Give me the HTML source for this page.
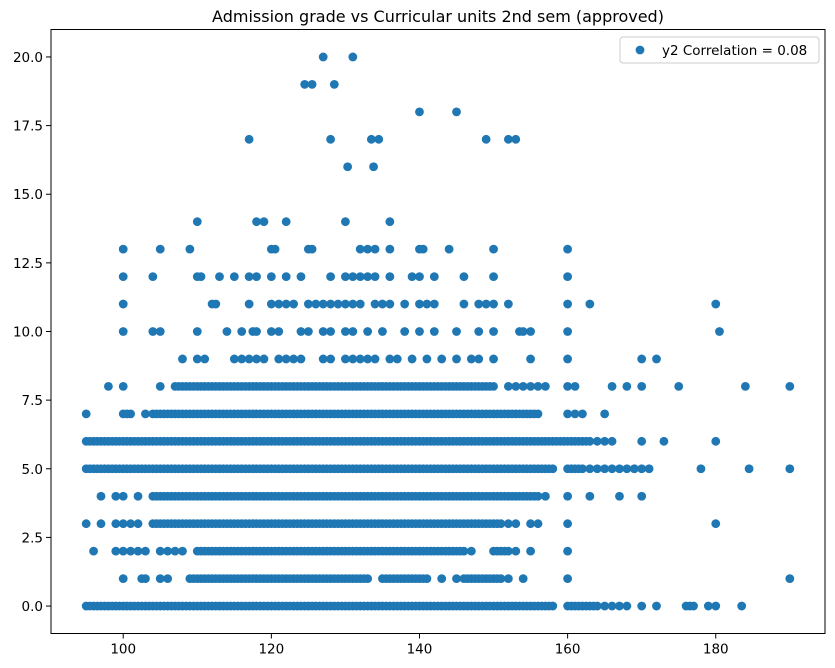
<!DOCTYPE html>
<html><head><meta charset="utf-8"><style>
body{margin:0;background:#fff;}
svg{display:block;font-family:"DejaVu Sans","Liberation Sans",sans-serif;}
</style></head><body>
<svg id="chart" width="835" height="668" viewBox="0 0 835 668" xmlns="http://www.w3.org/2000/svg">
<rect width="835" height="668" fill="#fff"/>
<text x="438" y="22" text-anchor="middle" font-size="16">Admission grade vs Curricular units 2nd sem (approved)</text>
<g id="points"></g>
<rect x="51" y="29.5" width="774" height="604" fill="none" stroke="#000" stroke-width="1"/>
<g id="xticks"></g>
<g id="yticks"></g>
<g>
<rect x="620" y="37" width="199" height="26" rx="3" fill="#fff" stroke="#ccc" fill-opacity="0.8"/>
<circle cx="640" cy="50" r="4.4" fill="#1f77b4"/>
<text x="662" y="55" font-size="13.5">y2 Correlation = 0.08</text>
</g>
</svg>
<script>
const xTicks=[100,120,140,160,180];
const yTicks=[0,2.5,5,7.5,10,12.5,15,17.5,20];
const yTickLabels=["0.0","2.5","5.0","7.5","10.0","12.5","15.0","17.5","20.0"];
const y0=[95,96,97,98,99,100,101,102,103,104,105,106,107,108,109,110,111,112,113,114,115,116,117,118,119,120,121,122,123,124,125,126,127,128,129,130,131,132,133,134,135,136,137,138,139,140,141,142,143,144,145,146,147,148,149,150,151,152,153,154,155,156,157,158,160,161,162,163,164,165,166,167,168,170,172,176,176.5,177,179,180,183.5];
const y0b=[95.5,96.5,97.5,98.5,99.5,100.5,101.5,102.5,103.5,104.5,105.5,106.5,107.5,108.5,109.5,110.5,111.5,112.5,113.5,114.5,115.5,116.5,117.5,118.5,119.5,120.5,121.5,122.5,123.5,124.5,125.5,126.5,127.5,128.5,129.5,130.5,131.5,132.5,133.5,134.5,135.5,136.5,137.5,138.5,139.5,140.5,141.5,142.5,143.5,144.5,145.5,146.5,147.5,148.5,149.5,150.5,151.5,152.5,153.5,154.5,155.5,156.5,157.5,160.5,161.5,162.5,163.5];
const y1=[100,102.5,103,105,106,109,110,111,112,113,114,115,116,117,118,119,120,121,122,123,124,125,126,127,128,129,130,131,132,133,135,136,137,138,139,140,141,143,145,146,147,148,149,150,151,152,154,160,190];
const y1b=[109.5,110.5,111.5,112.5,113.5,114.5,115.5,116.5,117.5,118.5,119.5,120.5,121.5,122.5,123.5,124.5,125.5,126.5,127.5,128.5,129.5,130.5,131.5,132.5,135.5,136.5,137.5,138.5,139.5,140.5,146.5,147.5,148.5,149.5,150.5];
const y2=[96,99,100,101,102,103,105,106,107,108,110,111,112,113,114,115,116,117,118,119,120,121,122,123,124,125,126,127,128,129,130,131,132,133,134,135,136,137,138,139,140,141,142,143,144,145,146,147,150,151,152,153,155,160];
const y2b=[110.5,111.5,112.5,113.5,114.5,115.5,116.5,117.5,118.5,119.5,120.5,121.5,122.5,123.5,124.5,125.5,126.5,127.5,128.5,129.5,130.5,131.5,132.5,133.5,134.5,135.5,136.5,137.5,138.5,139.5,140.5,141.5,142.5,143.5,144.5,145.5,150.5,151.5];
const y3=[95,97,99,100,101,102,104,105,106,107,108,109,110,111,112,113,114,115,116,117,118,119,120,121,122,123,124,125,126,127,128,129,130,131,132,133,134,135,136,137,138,139,140,141,142,143,144,145,146,147,148,149,150,151,152,153,155,156,160,180];
const y3b=[104.5,105.5,106.5,107.5,108.5,109.5,110.5,111.5,112.5,113.5,114.5,115.5,116.5,117.5,118.5,119.5,120.5,121.5,122.5,123.5,124.5,125.5,126.5,127.5,128.5,129.5,130.5,131.5,132.5,133.5,134.5,135.5,136.5,137.5,138.5,139.5,140.5,141.5,142.5,143.5,144.5,145.5,146.5,147.5,148.5,149.5,150.5];
const y4=[97,99,100,102,104,105,106,107,108,109,110,111,112,113,114,115,116,117,118,119,120,121,122,123,124,125,126,127,128,129,130,131,132,133,134,135,136,137,138,139,140,141,142,143,144,145,146,147,148,149,150,151,152,153,154,155,156,157,160,163,167,170];
const y4b=[104.5,105.5,106.5,107.5,108.5,109.5,110.5,111.5,112.5,113.5,114.5,115.5,116.5,117.5,118.5,119.5,120.5,121.5,122.5,123.5,124.5,125.5,126.5,127.5,128.5,129.5,130.5,131.5,132.5,133.5,134.5,135.5,136.5,137.5,138.5,139.5,140.5,141.5,142.5,143.5,144.5,145.5,146.5,147.5,148.5,149.5,150.5,151.5,152.5,153.5,154.5,155.5];
const y5=[95,96,97,98,99,100,101,102,103,104,105,106,107,108,109,110,111,112,113,114,115,116,117,118,119,120,121,122,123,124,125,126,127,128,129,130,131,132,133,134,135,136,137,138,139,140,141,142,143,144,145,146,147,148,149,150,151,152,153,154,155,156,157,158,160,161,162,163,164,165,166,167,168,169,170,171,178,184.5,190];
const y5b=[95.5,96.5,97.5,98.5,99.5,100.5,101.5,102.5,103.5,104.5,105.5,106.5,107.5,108.5,109.5,110.5,111.5,112.5,113.5,114.5,115.5,116.5,117.5,118.5,119.5,120.5,121.5,122.5,123.5,124.5,125.5,126.5,127.5,128.5,129.5,130.5,131.5,132.5,133.5,134.5,135.5,136.5,137.5,138.5,139.5,140.5,141.5,142.5,143.5,144.5,145.5,146.5,147.5,148.5,149.5,150.5,151.5,152.5,153.5,154.5,155.5,156.5,157.5,160.5,161.5];
const y6=[95,96,97,98,99,100,101,102,103,104,105,106,107,108,109,110,111,112,113,114,115,116,117,118,119,120,121,122,123,124,125,126,127,128,129,130,131,132,133,134,135,136,137,138,139,140,141,142,143,144,145,146,147,148,149,150,151,152,153,154,155,156,157,158,159,160,161,162,163,164,165,166,170,173,180];
const y6b=[95.5,96.5,97.5,98.5,99.5,100.5,101.5,102.5,103.5,104.5,105.5,106.5,107.5,108.5,109.5,110.5,111.5,112.5,113.5,114.5,115.5,116.5,117.5,118.5,119.5,120.5,121.5,122.5,123.5,124.5,125.5,126.5,127.5,128.5,129.5,130.5,131.5,132.5,133.5,134.5,135.5,136.5,137.5,138.5,139.5,140.5,141.5,142.5,143.5,144.5,145.5,146.5,147.5,148.5,149.5,150.5,151.5,152.5,153.5,154.5,155.5,156.5,157.5,158.5,159.5,160.5,161.5,162.5];
const y7=[95,100,101,103,104,105,106,107,108,109,110,111,112,113,114,115,116,117,118,119,120,121,122,123,124,125,126,127,128,129,130,131,132,133,134,135,136,137,138,139,140,141,142,143,144,145,146,147,148,149,150,151,152,153,154,155,156,160,161,162,165];
const y7b=[100.5,104.5,105.5,106.5,107.5,108.5,109.5,110.5,111.5,112.5,113.5,114.5,115.5,116.5,117.5,118.5,119.5,120.5,121.5,122.5,123.5,124.5,125.5,126.5,127.5,128.5,129.5,130.5,131.5,132.5,133.5,134.5,135.5,136.5,137.5,138.5,139.5,140.5,141.5,142.5,143.5,144.5,145.5,146.5,147.5,148.5,149.5,150.5,151.5,152.5,153.5,154.5,155.5];
const y8=[98,100,105,107,108,109,110,111,112,113,114,115,116,117,118,119,120,121,122,123,124,125,126,127,128,129,130,131,132,133,134,135,136,137,138,139,140,141,142,143,144,145,146,147,148,149,150,152,153,154,155,156,157,160,161,166,168,170,175,184,190];
const y8b=[107.5,108.5,109.5,110.5,111.5,112.5,113.5,114.5,115.5,116.5,117.5,118.5,119.5,120.5,121.5,122.5,123.5,124.5,125.5,126.5,127.5,128.5,129.5,130.5,131.5,132.5,133.5,134.5,135.5,136.5,137.5,138.5,139.5,140.5,141.5,142.5,143.5,144.5,145.5,146.5,147.5,148.5,149.5];
const y9=[108,110,111,115,116,117,118,119,121,122,123,124,127,128,130,131,132,133,134,136,137,139,141,143,145,147,148,150,155,160,170,172];
const y10=[100,104,105,110,114,116,117.5,118,120,121,124,125,127,128,130,131,133,135,138,140,142,145,148,150,153.5,154,155,160,180.5];
const y11=[100,112,112.5,117,120,121,122,123,125,126,127,128,129,130,131,132,134,135,136,138,140,141,142,146,148,149,150,152,160,163,180];
const y12=[100,104,110,110.5,113,115,117,118,120,122,124,128,130,131,132,133,134,136,139,140,142,146,150,160];
const y13=[100,105,109,120,120.5,125,125.5,132,133,134,136,140,140.5,144,150,160];
const y14=[110,118,119,122,130,136];
const y16=[130.3,133.8];
const y17=[117,128,133.5,134.5,149,152,153];
const y18=[140,145];
const y19=[124.5,125.5,128.5];
const y20=[127,131];
const rows=[[0,y0],[0,y0b],[1,y1],[1,y1b],[2,y2],[2,y2b],[3,y3],[3,y3b],[4,y4],[4,y4b],[5,y5],[5,y5b],[6,y6],[6,y6b],[7,y7],[7,y7b],[8,y8],[8,y8b],[9,y9],[10,y10],[11,y11],[12,y12],[13,y13],[14,y14],[16,y16],[17,y17],[18,y18],[19,y19],[20,y20]];

const NS="http://www.w3.org/2000/svg";
const X0=51,X1=825,XMIN=90.25,XMAX=194.75;
const Y0=633.5,Y1=29.5,YMIN=-1,YMAX=21;
function sx(v){return X0+(v-XMIN)/(XMAX-XMIN)*(X1-X0);}
function sy(v){return Y0-(v-YMIN)/(YMAX-YMIN)*(Y0-Y1);}
const pg=document.getElementById('points');
rows.forEach(r=>{r[1].forEach(x=>{
  const c=document.createElementNS(NS,'circle');
  c.setAttribute('cx',sx(x));c.setAttribute('cy',sy(r[0]));c.setAttribute('r',4.4);c.setAttribute('fill','#1f77b4');
  
  
  pg.appendChild(c);
});});
const xg=document.getElementById('xticks');
xTicks.forEach(t=>{
  const l=document.createElementNS(NS,'line');
  l.setAttribute('x1',sx(t));l.setAttribute('x2',sx(t));l.setAttribute('y1',Y0);l.setAttribute('y2',Y0+5);l.setAttribute('stroke','#000');
  
  
  xg.appendChild(l);
  const tx=document.createElementNS(NS,'text');
  tx.setAttribute('x',sx(t));tx.setAttribute('y',Y0+20);tx.setAttribute('text-anchor','middle');tx.setAttribute('font-size','13.5');
  tx.textContent=t;
  
  
  xg.appendChild(tx);
});
const yg=document.getElementById('yticks');
yTicks.forEach((t,i)=>{
  const l=document.createElementNS(NS,'line');
  l.setAttribute('x1',X0-5);l.setAttribute('x2',X0);l.setAttribute('y1',sy(t));l.setAttribute('y2',sy(t));l.setAttribute('stroke','#000');
  
  
  yg.appendChild(l);
  const tx=document.createElementNS(NS,'text');
  tx.setAttribute('x',X0-8);tx.setAttribute('y',sy(t)+5);tx.setAttribute('text-anchor','end');tx.setAttribute('font-size','13.5');
  tx.textContent=yTickLabels[i];
  
  
  yg.appendChild(tx);
});
</script>
</body></html>
